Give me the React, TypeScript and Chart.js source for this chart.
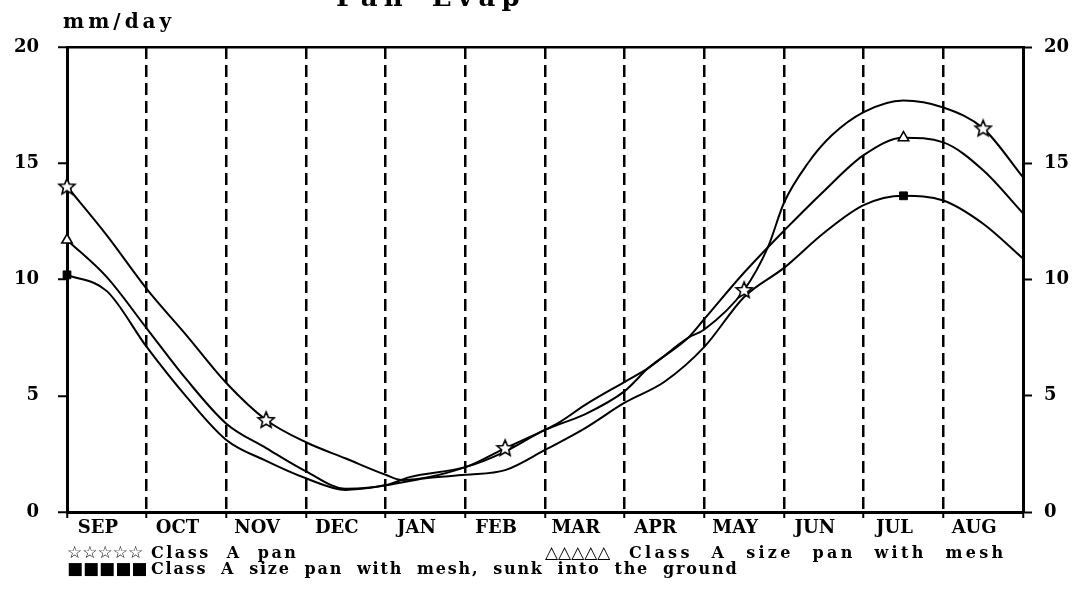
import React, { useEffect, useRef } from "react";
import { Chart, registerables } from "chart.js";

Chart.register(...registerables);

const months = ["SEP", "OCT", "NOV", "DEC", "JAN", "FEB", "MAR", "APR", "MAY", "JUN", "JUL", "AUG"];
const yTicks = [0, 5, 10, 15, 20];

// Class A pan (stars)
const panX = [0, 0.5, 1, 1.5, 2, 2.5, 3, 3.5, 4, 4.2, 5, 5.5, 6, 6.2, 6.5, 7, 7.3, 7.8, 8, 8.5, 8.8, 9, 9.3, 9.6, 10, 10.5, 11, 11.5, 12];
const panY = [14.0, 11.9, 9.6, 7.6, 5.55, 3.96, 3.0, 2.3, 1.6, 1.38, 1.93, 2.75, 3.53, 3.9, 4.6, 5.6, 6.2, 7.5, 7.85, 9.55, 11.4, 13.3, 15.0, 16.2, 17.2, 17.7, 17.4, 16.5, 14.4];
const panMarks = [0, 2.5, 5.5, 8.5, 11.5];

// Class A size pan with mesh (triangles)
const meshX = [0, 0.5, 1, 1.5, 2, 2.5, 3, 3.5, 4, 4.3, 5, 5.5, 6, 6.2, 6.5, 7, 7.3, 7.8, 8, 8.5, 9, 9.5, 10, 10.5, 11, 11.5, 12];
const meshY = [11.7, 10.1, 7.9, 5.7, 3.8, 2.75, 1.75, 1.0, 1.15, 1.5, 1.93, 2.6, 3.53, 3.8, 4.2, 5.2, 6.2, 7.5, 8.3, 10.3, 12.1, 13.8, 15.35, 16.1, 15.9, 14.7, 12.85];
const meshMarks = [0, 10.5];

// Class A size pan with mesh, sunk into the ground (squares)
const sunkX = [0, 0.5, 1, 1.5, 2, 2.5, 3, 3.5, 4, 4.5, 5, 5.5, 6, 6.5, 7, 7.5, 8, 8.5, 9, 9.5, 10, 10.5, 11, 11.5, 12];
const sunkY = [10.2, 9.5, 7.1, 4.95, 3.1, 2.2, 1.45, 0.95, 1.15, 1.45, 1.6, 1.8, 2.67, 3.6, 4.7, 5.6, 7.1, 9.25, 10.5, 12.0, 13.2, 13.6, 13.4, 12.4, 10.9];
const sunkMarks = [0, 10.5];

const FONT = "'DejaVu Serif', serif";

function makeStar(): HTMLCanvasElement {
  const c = document.createElement("canvas");
  c.width = 20;
  c.height = 20;
  const g = c.getContext("2d")!;
  g.beginPath();
  for (let i = 0; i < 10; i++) {
    const r = i % 2 === 0 ? 8.5 : 3.8;
    const a = -Math.PI / 2 + (i * Math.PI) / 5;
    const px = 10 + r * Math.cos(a);
    const py = 10.5 + r * Math.sin(a);
    if (i === 0) g.moveTo(px, py);
    else g.lineTo(px, py);
  }
  g.closePath();
  g.fillStyle = "#fff";
  g.fill();
  g.lineWidth = 1.6;
  g.strokeStyle = "#000";
  g.stroke();
  return c;
}

function pts(xs: number[], ys: number[]) {
  return xs.map((x, i) => ({ x, y: ys[i] }));
}

export default function App() {
  const ref = useRef<HTMLCanvasElement | null>(null);

  useEffect(() => {
    if (!ref.current) return;
    const star = makeStar();
    const markRadius = (marks: number[], r: number) => (ctx: any) =>
      ctx.raw && marks.includes(ctx.raw.x) ? r : 0;

    const common = {
      borderColor: "#000",
      borderWidth: 2,
      cubicInterpolationMode: "monotone" as const,
      tension: 0.4,
      clip: false as const,
      pointHoverRadius: 0,
    };

    const tickFont = { family: FONT, weight: "bold" as const, size: 18 };

    const chart = new Chart(ref.current, {
      type: "line",
      data: {
        datasets: [
          {
            ...common,
            label: "Class A pan",
            data: pts(panX, panY),
            pointStyle: star,
            pointRadius: markRadius(panMarks, 8),
          },
          {
            ...common,
            label: "Class A size pan with mesh",
            data: pts(meshX, meshY),
            pointStyle: "triangle",
            pointBackgroundColor: "#fff",
            pointBorderColor: "#000",
            pointBorderWidth: 1.6,
            pointRadius: markRadius(meshMarks, 6),
          },
          {
            ...common,
            label: "Class A size pan with mesh, sunk into the ground",
            data: pts(sunkX, sunkY),
            pointStyle: "rect",
            pointBackgroundColor: "#000",
            pointBorderColor: "#000",
            pointBorderWidth: 1,
            pointRadius: markRadius(sunkMarks, 5.5),
          },
        ],
      },
      options: {
        responsive: false,
        animation: false,
        events: [],
        layout: { padding: { top: 47, left: 0, right: 0, bottom: 0 } },
        plugins: { legend: { display: false }, tooltip: { enabled: false }, title: { display: false } },
        scales: {
          x: {
            type: "linear",
            min: 0,
            max: 12,
            afterBuildTicks: (s: any) => {
              const t: any[] = [];
              for (let i = 0; i <= months.length * 2; i++) t.push({ value: i / 2 });
              s.ticks = t;
            },
            afterFit: (s: any) => {
              s.height = 83;
            },
            ticks: {
              autoSkip: false,
              maxRotation: 0,
              padding: 0,
              labelOffset: -9,
              color: "#000",
              font: tickFont,
              callback: (v: any) => (Number.isInteger(v) ? "" : months[Math.floor(v)]),
            },
            grid: {
              color: (c: any) =>
                c.tick && Number.isInteger(c.tick.value) && c.tick.value > 0 && c.tick.value < 12 ? "#000" : "rgba(0,0,0,0)",
              tickColor: (c: any) => (c.tick && Number.isInteger(c.tick.value) ? "#000" : "rgba(0,0,0,0)"),
              lineWidth: 2.5,
              tickLength: 6,
              tickWidth: 2,
            },
            border: { display: true, color: "#000", width: 3, dash: [12, 6] },
          },
          y: {
            type: "linear",
            position: "left",
            min: 0,
            max: 20,
            afterBuildTicks: (s: any) => {
              s.ticks = yTicks.map((v) => ({ value: v }));
            },
            afterFit: (s: any) => {
              s.width = 67;
            },
            ticks: {
              padding: 19,
              color: "#000",
              font: tickFont,
            },
            grid: {
              color: (c: any) => (c.tick && c.tick.value === 20 ? "#000" : "rgba(0,0,0,0)"),
              tickColor: "#000",
              lineWidth: 2.5,
              tickLength: 9,
              tickWidth: 2,
            },
            border: { display: true, color: "#000", width: 3 },
          },
          y2: {
            type: "linear",
            position: "right",
            min: 0,
            max: 20,
            afterBuildTicks: (s: any) => {
              s.ticks = yTicks.map((v) => ({ value: v }));
            },
            afterFit: (s: any) => {
              s.width = 55;
            },
            ticks: {
              padding: 12,
              color: "#000",
              font: tickFont,
            },
            grid: {
              drawOnChartArea: false,
              tickColor: "#000",
              tickLength: 9,
              tickWidth: 2,
            },
            border: { display: true, color: "#000", width: 3 },
          },
        },
      },
    });
    return () => chart.destroy();
  }, []);

  const textStyle: React.CSSProperties = {
    position: "absolute",
    fontFamily: FONT,
    fontWeight: "bold",
    fontSize: 16,
    letterSpacing: "2.5px",
    wordSpacing: "8px",
    whiteSpace: "nowrap",
    lineHeight: "16px",
    color: "#000",
  };
  const symStyle: React.CSSProperties = {
    display: "inline-block",
    width: 80,
    fontFamily: "'DejaVu Sans', sans-serif",
    fontSize: 17,
    letterSpacing: "0px",
    wordSpacing: "0px",
    marginRight: 4,
  };

  return (
    <div style={{ position: "fixed", left: 0, top: 0, width: 1078, height: 595, overflow: "hidden", background: "#fff" }}>
      <canvas ref={ref} width={1078} height={595} style={{ display: "block" }} />
      <div style={{ ...textStyle, left: 336, top: -16, fontSize: 26, lineHeight: "26px", letterSpacing: "6px" }}>Pan Evap</div>
      <div style={{ ...textStyle, left: 63, top: 11, fontSize: 20, lineHeight: "20px", letterSpacing: "4px" }}>mm/day</div>
      <div style={{ ...textStyle, left: 67, top: 544 }}>
        <span style={symStyle}>☆☆☆☆☆</span>Class A pan
      </div>
      <div style={{ ...textStyle, left: 545, top: 544, letterSpacing: "3.3px", wordSpacing: "10px" }}>
        <span style={symStyle}>△△△△△</span>Class A size pan with mesh
      </div>
      <div style={{ ...textStyle, left: 67, top: 560, letterSpacing: "1.8px", wordSpacing: "6.5px" }}>
        <span style={symStyle}>■■■■■</span>Class A size pan with mesh, sunk into the ground
      </div>
    </div>
  );
}
